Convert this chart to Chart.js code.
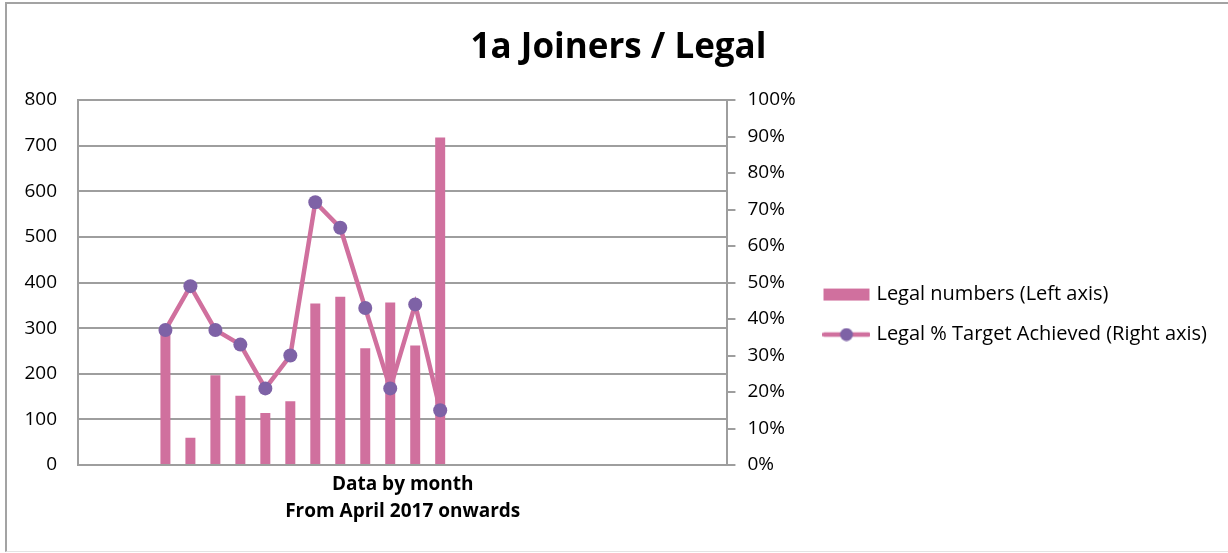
<!DOCTYPE html>
<html>
<head>
<meta charset="utf-8">
<script src="https://cdn.jsdelivr.net/npm/chart.js@4/dist/chart.umd.min.js"></script>
<style>
  html, body { margin: 0; padding: 0; background: #fff; }
  #wrap { position: relative; width: 1228px; height: 553px; }
  #frame {
    position: absolute; left: 5px; top: 2px; right: 0; bottom: 1px;
    border-left: 2px solid #a3a3a3; border-top: 2px solid #a3a3a3;
    border-bottom: 1px solid #e4e4e4; pointer-events: none;
  }
  canvas { position: absolute; left: 0; top: 0; }
</style>
</head>
<body>
<div id="wrap">
  <canvas id="joinersChart" width="1228" height="553"></canvas>
  <div id="frame"></div>
</div>
<script>
// 26 slots on the category axis, months only fill slots 4..15
const categories = ['', '', '', '', '', '', '', '', '', '', '', '', '', '',
  '', '', '', '', '', '', '', '', '', '', '', '']
const legalNumbers = [null, null, null, 298, 60, 197, 152, 114, 140, 354, 369, 256, 356, 262, 718,
  null, null, null, null, null, null, null, null, null, null, null]
const targetAchieved = [null, null, null, 37, 49, 37, 33, 21, 30, 72, 65, 43, 21, 44, 15,
  null, null, null, null, null, null, null, null, null, null, null]
const leftTicks = { min: 0, max: 800, step: 100 }
const rightTicks = { min: 0, max: 100, step: 10 }

const PINK = '#d0709e'
const PURPLE = '#7e62a6'
const GRID = '#9e9e9e'
const FONT = 'Open Sans'

// little legend swatches: a plain bar, and a line with a marker on it
function swatch (withMarker) {
  const c = document.createElement('canvas')
  c.width = 48
  c.height = 14
  const g = c.getContext('2d')
  if (withMarker) {
    g.strokeStyle = PINK
    g.lineWidth = 4.5
    g.lineCap = 'round'
    g.beginPath()
    g.moveTo(2, 7)
    g.lineTo(46, 7)
    g.stroke()
    g.fillStyle = PURPLE
    g.beginPath()
    g.arc(24, 7, 6.5, 0, Math.PI * 2)
    g.fill()
  } else {
    g.fillStyle = PINK
    g.fillRect(1, 1, 46, 12)
  }
  return c
}

// legend sits lower than the plot centre
const legendNudge = {
  id: 'legendNudge',
  afterLayout (chart) {
    chart.legend.top += 32
    chart.legend.bottom += 32
  }
}

const ctx = document.getElementById('joinersChart').getContext('2d')
new Chart(ctx, {
  type: 'bar',
  data: {
    labels: categories,
    datasets: [
      {
        label: 'Legal numbers (Left axis)',
        data: legalNumbers,
        backgroundColor: PINK,
        barPercentage: 0.4,
        categoryPercentage: 1,
        yAxisID: 'y',
        order: 2
      },
      {
        type: 'line',
        label: 'Legal % Target Achieved (Right axis)',
        data: targetAchieved,
        borderColor: PINK,
        borderWidth: 4.5,
        pointRadius: 7,
        pointBackgroundColor: PURPLE,
        pointBorderColor: PURPLE,
        pointBorderWidth: 0,
        tension: 0,
        spanGaps: false,
        yAxisID: 'y1',
        order: 1
      }
    ]
  },
  options: {
    responsive: false,
    animation: false,
    layout: { padding: { top: 14, left: 20, right: 11, bottom: 28 } },
    scales: {
      x: {
        grid: { display: false, drawTicks: false },
        border: { display: true, color: GRID, width: 2 },
        ticks: { display: false },
        title: {
          display: true,
          text: ['Data by month', 'From April 2017 onwards'],
          color: '#000',
          font: { family: FONT, size: 19, weight: 'bold', lineHeight: 1.42 },
          padding: { top: 6, bottom: 0 }
        }
      },
      y: {
        position: 'left',
        min: leftTicks.min,
        max: leftTicks.max,
        grid: { color: GRID, lineWidth: 2, drawTicks: false },
        border: { display: true, color: GRID, width: 2 },
        ticks: {
          stepSize: leftTicks.step,
          padding: 21,
          color: '#000',
          font: { family: FONT, size: 19 }
        },
        afterFit (scale) { scale.width = 58 }
      },
      y1: {
        position: 'right',
        min: rightTicks.min,
        max: rightTicks.max,
        grid: { drawOnChartArea: false, color: GRID, lineWidth: 2, tickLength: 8 },
        border: { display: true, color: GRID, width: 2 },
        ticks: {
          stepSize: rightTicks.step,
          padding: 12,
          color: '#000',
          font: { family: FONT, size: 19 },
          callback: v => v + '%'
        },
        afterFit (scale) { scale.width = 79 }
      }
    },
    plugins: {
      title: {
        display: true,
        text: '1a Joiners / Legal',
        color: '#000',
        font: { family: FONT, size: 35, weight: 'bold' },
        padding: { top: 13, bottom: 31 }
      },
      legend: {
        position: 'right',
        fullSize: false,
        maxWidth: 500,
        labels: {
          usePointStyle: true,
          pointStyleWidth: 40,
          boxHeight: 14,
          padding: 20,
          color: '#000',
          font: { family: FONT, size: 20 },
          generateLabels (chart) {
            return chart.data.datasets.map((ds, i) => ({
              text: ds.label,
              datasetIndex: i,
              pointStyle: swatch(ds.type === 'line'),
              fillStyle: PINK,
              strokeStyle: PINK,
              lineWidth: 0,
              hidden: !chart.isDatasetVisible(i),
              fontColor: '#000'
            }))
          }
        }
      },
      tooltip: { enabled: false }
    }
  },
  plugins: [legendNudge]
})
</script>
</body>
</html>
